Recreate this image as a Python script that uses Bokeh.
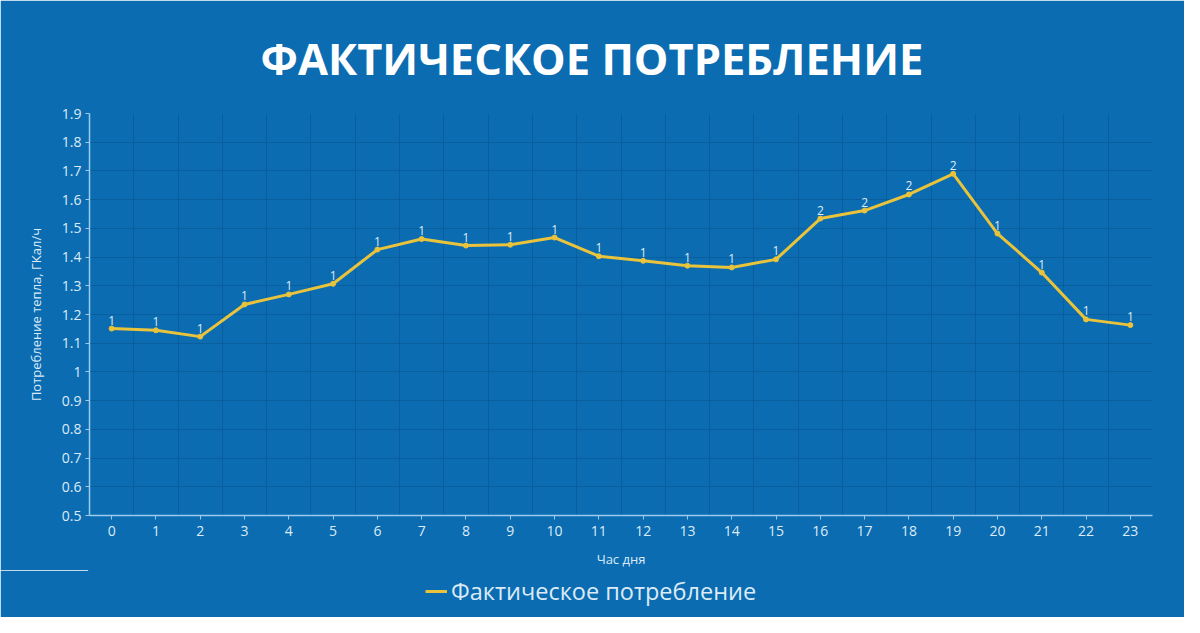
from bokeh.plotting import figure
from bokeh.layouts import column
from bokeh.models import (Range1d, FixedTicker, ColumnDataSource, Legend,
                          LegendItem, LabelSet)
from bokeh.core.properties import value
from bokeh.embed import file_html
from bokeh.resources import INLINE

# ---------------- data ----------------
hours = list(range(24))
consumption = [1.151, 1.145, 1.123, 1.235, 1.270, 1.307, 1.426, 1.463,
               1.440, 1.443, 1.468, 1.403, 1.387, 1.370, 1.364, 1.392,
               1.534, 1.562, 1.618, 1.690, 1.482, 1.346, 1.183, 1.163]
point_labels = ["1", "1", "1", "1", "1", "1", "1", "1", "1", "1", "1", "1",
                "1", "1", "1", "1", "2", "2", "2", "2", "1", "1", "1", "1"]
y_ticks = [0.5, 0.6, 0.7, 0.8, 0.9, 1.0, 1.1, 1.2, 1.3, 1.4, 1.5, 1.6,
           1.7, 1.8, 1.9]
y_tick_labels = ["0.5", "0.6", "0.7", "0.8", "0.9", "1", "1.1", "1.2",
                 "1.3", "1.4", "1.5", "1.6", "1.7", "1.8", "1.9"]
hour_boundaries = [h - 0.5 for h in hours] + [hours[-1] + 0.5]

title_text = "ФАКТИЧЕСКОЕ ПОТРЕБЛЕНИЕ"
series_name = "Фактическое потребление"
x_title = "Час дня"
y_title = "Потребление тепла, ГКал/ч"

# ---------------- style ----------------
BG = "#0b6cb1"
LINE = "#e9c33b"
TXT = "#dcebf7"
AXIS = "#9ccbef"
GRID = "#06457a"
FONT = "Open Sans"

src = ColumnDataSource(data=dict(x=hours, y=consumption, lbl=point_labels))

p = figure(width=1184, height=570, output_backend="svg",
           toolbar_location=None,
           x_range=Range1d(hour_boundaries[0], hour_boundaries[-1]),
           y_range=Range1d(y_ticks[0], y_ticks[-1]),
           min_border_left=89, min_border_right=32,
           min_border_top=113, min_border_bottom=55)

p.background_fill_color = BG
p.border_fill_color = BG
p.outline_line_color = BG
p.outline_line_width = 2

# title
p.title.text = title_text
p.title.align = "left"
p.title.offset = 171
p.title.text_font = FONT
p.title.text_font_style = "bold"
p.title.text_font_size = "43.5px"
p.title.text_color = "#ffffff"
p.title.standoff = 52

# axes
p.xaxis.ticker = FixedTicker(ticks=hours)
p.yaxis.ticker = FixedTicker(ticks=y_ticks)
p.yaxis.major_label_overrides = {t: l for t, l in zip(y_ticks, y_tick_labels)}
for ax in (p.xaxis[0], p.yaxis[0]):
    ax.axis_line_color = AXIS
    ax.axis_line_width = 1.5
    ax.major_tick_line_color = AXIS
    ax.major_tick_in = 0
    ax.major_tick_out = 4
    ax.minor_tick_line_color = None
    ax.major_label_text_color = TXT
    ax.major_label_text_font = FONT
    ax.major_label_text_font_size = "14px"
    ax.axis_label_text_color = TXT
    ax.axis_label_text_font = FONT
    ax.axis_label_text_font_style = "normal"
    ax.axis_label_text_font_size = "13px"

p.xaxis.axis_label = x_title
p.xaxis.major_label_standoff = 6
p.xaxis.axis_label_standoff = 11
p.yaxis.axis_label = y_title
p.yaxis.major_label_standoff = 4
p.yaxis.axis_label_standoff = 14

# grid
p.xgrid.ticker = FixedTicker(ticks=hour_boundaries)
p.xgrid.grid_line_color = GRID
p.xgrid.grid_line_alpha = 0.35
p.ygrid.grid_line_color = GRID
p.ygrid.grid_line_alpha = 0.35

# series
line_r = p.line("x", "y", source=src, line_color=LINE, line_width=3)
p.scatter("x", "y", source=src, size=5, fill_color=LINE, line_color=LINE)

labels = LabelSet(x="x", y="y", text="lbl", source=src, text_align="center",
                  text_baseline="bottom", y_offset=4, text_color=TXT,
                  text_font_size=value("12px"), text_font=value(FONT))
p.add_layout(labels)

# ---------------- legend strip ----------------
pl = figure(frame_width=1184, frame_height=47, output_backend="svg",
            toolbar_location=None,
            x_range=Range1d(hour_boundaries[0], hour_boundaries[-1]),
            y_range=Range1d(0, 1), min_border=0)
pl.background_fill_color = BG
pl.border_fill_color = BG
pl.outline_line_color = BG
pl.outline_line_width = 3
pl.axis.visible = False
pl.grid.visible = False
# same series; its values lie above this strip's range, so only the key shows
legend_line = pl.line("x", "y", source=src, line_color=LINE, line_width=3)

legend = Legend(items=[LegendItem(label=series_name, renderers=[legend_line])],
                orientation="horizontal", location=(423, 8),
                background_fill_alpha=0, border_line_alpha=0,
                label_text_color=TXT, label_text_font=FONT,
                label_text_font_size="23.5px", glyph_width=22,
                label_standoff=4, padding=2, margin=0)
pl.add_layout(legend)

layout = column(p, pl, spacing=0)
open("out.html", "w").write(file_html(layout, INLINE))
